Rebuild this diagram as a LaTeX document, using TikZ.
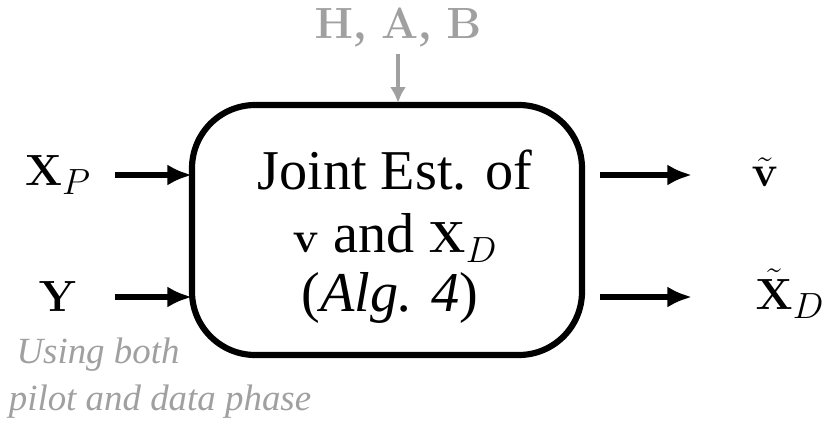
\documentclass[tikz,border=0pt]{standalone}
\usepackage[no-math]{fontspec}
\setmainfont{Liberation Serif}
\usepackage{amsmath}
\usetikzlibrary{arrows.meta}
\definecolor{softgray}{RGB}{160,160,160}
\tikzset{
  sig/.style={-{Latex[length=14pt,width=12pt]}, line width=3.5pt},
  big/.style={font=\fontsize{32}{36}\selectfont},
  note/.style={font=\fontsize{21}{24}\selectfont\itshape, text=softgray}
}
\begin{document}
\begin{tikzpicture}[x=0.02cm,y=-0.02cm]
        \useasboundingbox (0,0) rectangle (831,429);
        % main block
        \node[draw, line width=3.5pt, rounded corners=36pt, minimum width=390*0.02cm,
              minimum height=250*0.02cm] (est) at (387,230) {};
        \node[big] (l1) at (395,170) {Joint Est. of};
        \node[big] (l2) at (395,238) {$\mathbf{v}$ and $\mathbf{X}_D$};
        \node[big] (l3) at (390,298) {(\textit{Alg. 4})};
        % inputs
        \node[big] (xp) at (58,175) {$\mathbf{X}_P$};
        \node[big] (y) at (58,297) {$\mathbf{Y}$};
        \coordinate (sxp) at (115,175);
        \coordinate (sy) at (115,297);
        \coordinate (inxp) at (192,175);
        \coordinate (iny) at (192,297);
        \draw[sig] (sxp) -- (inxp);
        \draw[sig] (sy) -- (iny);
        % outputs
        \node[big] (vt) at (765,172) {$\tilde{\mathbf{v}}$};
        \node[big] (xdt) at (790,294) {$\tilde{\mathbf{X}}_D$};
        \coordinate (ov) at (600,175);
        \coordinate (ox) at (600,297);
        \coordinate (ev) at (692,175);
        \coordinate (ex) at (692,297);
        \draw[sig] (ov) -- (ev);
        \draw[sig] (ox) -- (ex);
        % side information
        \node[big, text=softgray] (hab) at (398,28) {$\mathbf{H}$, $\mathbf{A}$, $\mathbf{B}$};
        \coordinate (top) at (398,103);
        \draw[-{Latex[length=9pt,width=9pt]}, line width=2pt, softgray] (hab.south) -- (top);
        % note
        \node[note] (n1) at (98,355) {Using both};
        \node[note] (n2) at (160,402) {pilot and data phase};
\end{tikzpicture}
\end{document}
